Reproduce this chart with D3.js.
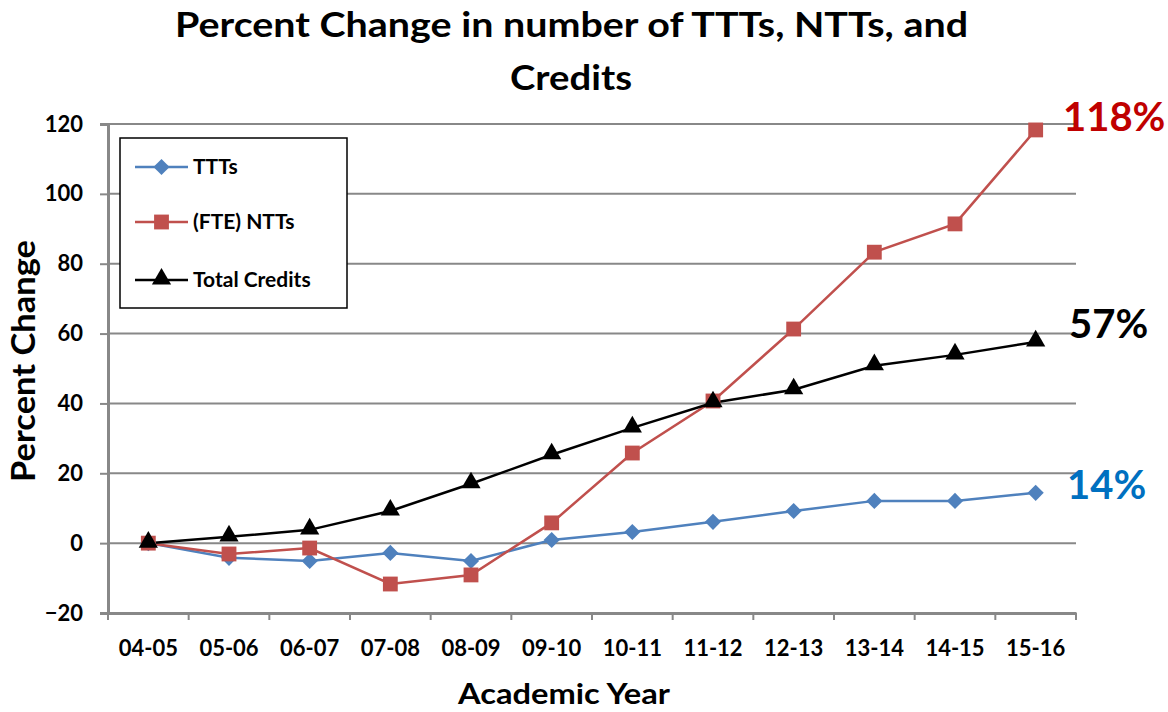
<!DOCTYPE html>
<html><head><meta charset="utf-8">
<script src="https://cdn.jsdelivr.net/npm/d3@7"></script>
<style>body{margin:0;background:#fff}svg{display:block}text{font-family:Lato,"Open Sans",sans-serif;font-weight:bold}</style>
</head><body><svg id="c" width="1168" height="712"></svg>
<script>
const categories=["04-05","05-06","06-07","07-08","08-09","09-10","10-11","11-12","12-13","13-14","14-15","15-16"];
const ttts=[0,-4.2,-5.1,-2.8,-5.1,0.9,3.2,6.1,9.2,12.1,12.1,14.4];
const ntts=[0,-3.1,-1.4,-11.7,-9.1,5.8,25.8,40.7,61.3,83.3,91.4,118.3];
const credits=[0,1.8,3.8,9.2,17,25.3,33,40.2,43.9,50.8,53.9,57.6];
const yTicks=[-20,0,20,40,60,80,100,120];
const seriesNames=["TTTs","(FTE) NTTs","Total Credits"];
const endLabels=["14%","118%","57%"];

const svg=d3.select("#c");
const L=108,R=1076,T=124,B=613;
const x=d3.scaleBand().domain(categories).range([L,R]);
const y=d3.scaleLinear().domain([-20,120]).range([B,T]);
const grid="#888";

// gridlines
svg.append("g").selectAll("line").data(yTicks.filter(d=>d>-20)).join("line")
 .attr("x1",L).attr("x2",R).attr("y1",d=>y(d)).attr("y2",d=>y(d)).attr("stroke",grid).attr("stroke-width",2);

// y axis
const ya=svg.append("g").attr("transform",`translate(${L},0)`).call(d3.axisLeft(y).tickValues(yTicks).tickSize(8).tickPadding(17));
ya.select(".domain").attr("stroke",grid).attr("stroke-width",3);
ya.selectAll(".tick line").attr("stroke",grid).attr("stroke-width",2);
ya.selectAll(".tick text").attr("font-size",22).attr("fill","#000").attr("font-family","Lato").attr("font-weight","bold");

// x axis
const xa=svg.append("g").attr("transform",`translate(0,${B})`).call(d3.axisBottom(x).tickSize(0).tickPadding(27));
xa.select(".domain").attr("stroke",grid).attr("stroke-width",3);
xa.selectAll(".tick text").attr("font-size",22).attr("fill","#000").attr("font-family","Lato").attr("font-weight","bold");
const bounds=categories.map(c=>x(c)).concat([R]);
svg.append("g").selectAll("line").data(bounds).join("line")
 .attr("x1",d=>d).attr("x2",d=>d).attr("y1",B).attr("y2",B+7).attr("stroke",grid).attr("stroke-width",2);

const cx=c=>x(c)+x.bandwidth()/2;
const line=d3.line().x((d,i)=>cx(categories[i])).y(d=>y(d));
const series=[
 {v:ttts,color:"#4F81BD",shape:"diamond",size:130},
 {v:ntts,color:"#C0504D",shape:"square",size:220},
 {v:credits,color:"#000",shape:"triangle",size:160}
];
const sym=s=>d3.symbol().type(s.shape==="triangle"?d3.symbolTriangle:d3.symbolSquare).size(s.size)();
function drawMarker(g,s,px,py){
 const p=g.append("path").attr("d",sym(s)).attr("fill",s.color);
 if(s.shape==="diamond") p.attr("transform",`translate(${px},${py}) rotate(45)`);
 else if(s.shape==="triangle") p.attr("transform",`translate(${px},${py-1})`);
 else p.attr("transform",`translate(${px},${py})`);
}
series.forEach(s=>{
 svg.append("path").datum(s.v).attr("d",line).attr("fill","none").attr("stroke",s.color).attr("stroke-width",2.5);
});
series.forEach(s=>{
 const g=svg.append("g");
 s.v.forEach((d,i)=>drawMarker(g,s,cx(categories[i]),y(d)));
});

// end labels
const labColors=["#0070C0","#C00000","#000"];
const labY=[499,131,338];
const labX=[1067,1063,1069];
endLabels.forEach((t,i)=>svg.append("text").attr("x",labX[i]).attr("y",labY[i]).attr("font-size",40).attr("fill",labColors[i]).text(t));

// legend
svg.append("rect").attr("x",120).attr("y",138).attr("width",227).attr("height",170).attr("fill","#fff").attr("stroke","#000").attr("stroke-width",1.5);
const ly=[167,222,280];
series.forEach((s,i)=>{
 const g=svg.append("g");
 g.append("line").attr("x1",135).attr("x2",188).attr("y1",ly[i]).attr("y2",ly[i]).attr("stroke",s.color).attr("stroke-width",2.5);
 drawMarker(g,s,161.5,ly[i]);
 g.append("text").attr("x",193).attr("y",ly[i]+7).attr("font-size",21).text(seriesNames[i]);
});

// titles
svg.append("text").attr("x",571.5).attr("y",37).attr("text-anchor","middle").attr("font-size",34)
 .attr("textLength",793).attr("lengthAdjust","spacingAndGlyphs").text("Percent Change in number of TTTs, NTTs, and");
svg.append("text").attr("x",571).attr("y",90).attr("text-anchor","middle").attr("font-size",34)
 .attr("textLength",122).attr("lengthAdjust","spacingAndGlyphs").text("Credits");
svg.append("text").attr("transform","translate(35,361) rotate(-90)").attr("text-anchor","middle").attr("font-size",33)
 .attr("textLength",242).attr("lengthAdjust","spacingAndGlyphs").text("Percent Change");
svg.append("text").attr("x",564).attr("y",704).attr("text-anchor","middle").attr("font-size",29)
 .attr("textLength",212).attr("lengthAdjust","spacingAndGlyphs").text("Academic Year");
</script></body></html>
